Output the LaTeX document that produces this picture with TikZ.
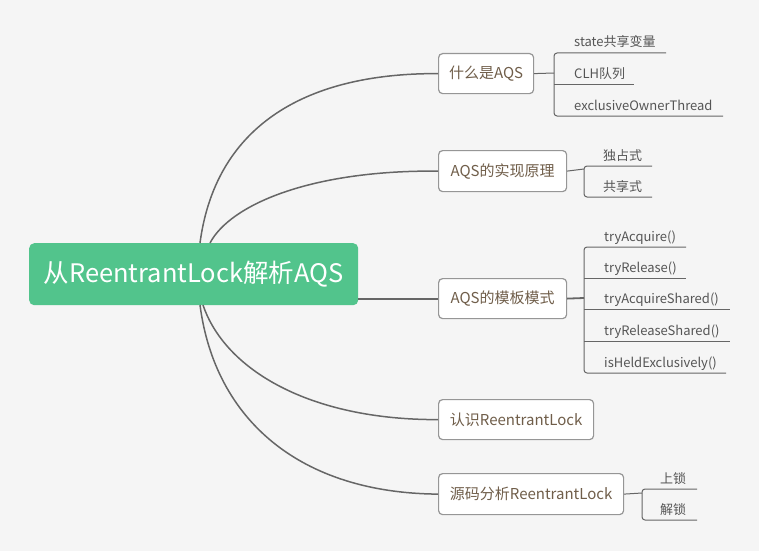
\documentclass[tikz,border=0pt]{standalone}
\usepackage{fontspec}
\setmainfont{Noto Sans CJK SC}
\definecolor{bg}{RGB}{245,245,245}
\definecolor{rootgreen}{RGB}{82,196,140}
\definecolor{nodetext}{RGB}{112,94,74}
\definecolor{subtext}{RGB}{85,85,85}
\definecolor{linegray}{RGB}{102,102,102}
\definecolor{bordergray}{RGB}{150,150,150}
\begin{document}
\begin{tikzpicture}[x=1pt,y=-1pt,
  rootbox/.style={fill=rootgreen, rounded corners=5pt, inner sep=0pt, anchor=north west, text=white, font=\fontsize{25.5}{30}\selectfont},
  topic/.style={draw=bordergray, line width=1.2pt, fill=white, rounded corners=4pt, inner sep=0pt, anchor=north west, text=nodetext, font=\fontsize{15}{17}\selectfont},
  leaf/.style={anchor=base west, inner sep=0pt, text=subtext, font=\fontsize{13}{15}\selectfont},
  branch/.style={draw=linegray, line width=1.5pt},
  subline/.style={draw=linegray, line width=1pt, rounded corners=3pt}
]
\useasboundingbox[fill=bg] (0,0) rectangle (759,551);

% root
\node[rootbox, minimum width=329pt, minimum height=62pt] (root) at (29,243) {从ReentrantLock解析AQS};

% topics
\node[topic, minimum width=95pt, minimum height=40pt] (t1) at (438,53) {什么是AQS};
\node[topic, minimum width=128pt, minimum height=41pt] (t2) at (438,150) {AQS的实现原理};
\node[topic, minimum width=128pt, minimum height=40pt] (t3) at (438,278) {AQS的模板模式};
\node[topic, minimum width=155pt, minimum height=40pt] (t4) at (438,399) {认识ReentrantLock};
\node[topic, minimum width=185pt, minimum height=41pt] (t5) at (438,473) {源码分析ReentrantLock};

% root connectors
\coordinate (r1) at (200,243);
\coordinate (r2) at (210,243);
\coordinate (r4) at (203,305);
\coordinate (r5) at (200,305);
\draw[branch] (r1) .. controls (215,130) and (300,73) .. (t1.west);
\draw[branch] (r2) .. controls (230,205) and (310,170) .. (t2.west);
\draw[branch, line width=1.8pt] (root.east |- t3.west) -- (t3.west);
\draw[branch] (r4) .. controls (225,370) and (310,420) .. (t4.west);
\draw[branch] (r5) .. controls (215,420) and (300,493) .. (t5.west);

% group 1
\coordinate (v1) at (554,73);
\draw[subline] (t1.east) -- (v1);
\draw[subline] (666,53) -- (554,53) -- (554,116) -- (723,116);
\draw[subline] (554,84) -- (634,84);
\node[leaf] (l11) at (574,47) {state共享变量};
\node[leaf] (l12) at (574,78) {CLH队列};
\node[leaf] (l13) at (574,110) {exclusiveOwnerThread};

% group 2
\coordinate (v2) at (584,169);
\draw[subline] (t2.east) -- (v2);
\draw[subline] (652,166) -- (584,166) -- (584,197) -- (652,197);
\node[leaf] (l21) at (603,160) {独占式};
\node[leaf] (l22) at (603,191) {共享式};

% group 3
\coordinate (v3) at (584,298);
\draw[subline, line width=1.8pt] (t3.east) -- (v3);
\draw[subline] (686,247) -- (584,247) -- (584,373) -- (726,373);
\draw[subline] (584,278) -- (686,278);
\draw[subline] (584,309) -- (730,309);
\draw[subline] (584,341) -- (730,341);
\node[leaf] (l31) at (604,241) {tryAcquire()};
\node[leaf] (l32) at (604,272) {tryRelease()};
\node[leaf] (l33) at (604,303) {tryAcquireShared()};
\node[leaf] (l34) at (604,335) {tryReleaseShared()};
\node[leaf] (l35) at (604,367) {isHeldExclusively()};

% group 5
\coordinate (v5) at (642,493);
\draw[subline] (t5.east) -- (v5);
\draw[subline] (697,489) -- (642,489) -- (642,520) -- (697,520);
\node[leaf] (l51) at (660,483) {上锁};
\node[leaf] (l52) at (660,514) {解锁};
\end{tikzpicture}
\end{document}
